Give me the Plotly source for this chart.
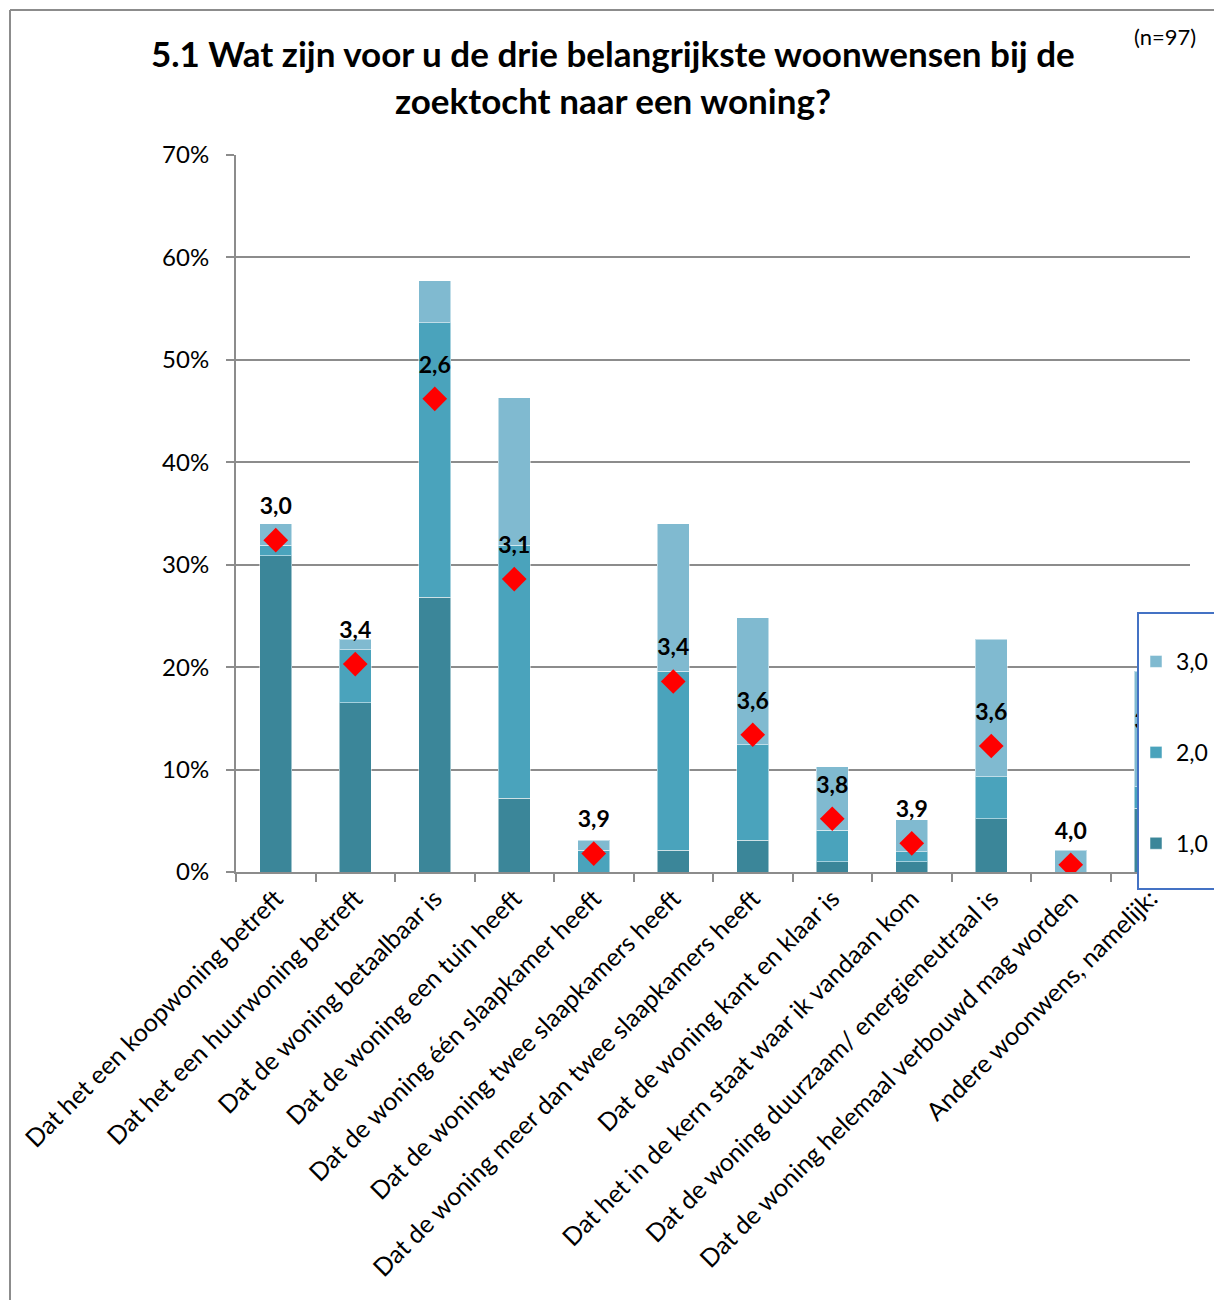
import plotly.graph_objects as go

categories = [
    "Dat het een koopwoning betreft",
    "Dat het een huurwoning betreft",
    "Dat de woning betaalbaar is",
    "Dat de woning een tuin heeft",
    "Dat de woning één slaapkamer heeft",
    "Dat de woning twee slaapkamers heeft",
    "Dat de woning meer dan twee slaapkamers heeft",
    "Dat de woning kant en klaar is",
    "Dat het in de kern staat waar ik vandaan kom",
    "Dat de woning duurzaam/ energieneutraal is",
    "Dat de woning helemaal verbouwd mag worden",
    "Andere woonwens, namelijk:",
]
series_names = ["1,0", "2,0", "3,0"]
rank1 = [30.9, 16.5, 26.8, 7.2, 0.0, 2.1, 3.1, 1.0, 1.0, 5.2, 0.0, 6.2]
rank2 = [1.0, 5.2, 26.8, 24.7, 2.1, 17.5, 9.3, 3.1, 1.0, 4.1, 0.0, 2.1]
rank3 = [2.1, 1.0, 4.1, 14.4, 1.0, 14.4, 12.4, 6.2, 3.1, 13.4, 2.1, 11.3]
mean_marker = [32.4, 20.3, 46.2, 28.6, 1.8, 18.6, 13.4, 5.2, 2.8, 12.3, 0.7, 11.4]
mean_labels = ["3,0", "3,4", "2,6", "3,1", "3,9", "3,4", "3,6", "3,8", "3,9", "3,6", "4,0", "3,7"]
y_ticks = [0, 10, 20, 30, 40, 50, 60, 70]
y_ticktext = ["0%", "10%", "20%", "30%", "40%", "50%", "60%", "70%"]

colors = ["#3B8699", "#4AA3BC", "#80BAD0"]
FONT = "Lato"

W, H = 1214, 1300
L, R, T, B = 236, 24, 155, 428
pw, ph = W - L - R, H - T - B

def px(x):
    return (x - L) / pw

def py(y):
    return (T + ph - y) / ph

fig = go.Figure()
for name, vals, col, rank in zip(series_names, [rank1, rank2, rank3], colors, [3, 2, 1]):
    fig.add_trace(go.Bar(
        x=categories, y=vals, name=name,
        marker=dict(color=col, line=dict(color="rgba(255,255,255,0.5)", width=1)),
        legendgroup=name, legendrank=rank,
    ))

# invisible large markers carry the labels above the diamonds
fig.add_trace(go.Scatter(
    x=categories, y=mean_marker, mode="markers+text", text=mean_labels,
    textposition="top center",
    textfont=dict(family=FONT, size=23, color="black", weight="bold"),
    marker=dict(size=31, color="rgba(0,0,0,0)"), showlegend=False, hoverinfo="skip",
))
fig.add_trace(go.Scatter(
    x=categories, y=mean_marker, mode="markers",
    marker=dict(symbol="diamond", size=19, color="#FF0000"), showlegend=False,
))

shapes = [
    dict(type="line", xref="paper", yref="paper", x0=px(10), x1=px(1300), y0=py(10), y1=py(10),
         line=dict(color="#8C8C8C", width=2)),
    dict(type="line", xref="paper", yref="paper", x0=px(10), x1=px(10), y0=py(10), y1=py(1400),
         line=dict(color="#8C8C8C", width=2)),
    dict(type="rect", xref="paper", yref="paper", x0=px(1138), x1=px(1300), y0=py(613), y1=py(889),
         fillcolor="white", line=dict(color="#4472C4", width=2), layer="above"),
]

annotations = [
    dict(text="<b>5.1 Wat zijn voor u de drie belangrijkste woonwensen bij de</b>", xref="paper", yref="paper",
         x=px(613), y=py(53), xanchor="center", yanchor="middle", showarrow=False,
         font=dict(family=FONT, size=35, color="black")),
    dict(text="<b>zoektocht naar een woning?</b>", xref="paper", yref="paper",
         x=px(613), y=py(100), xanchor="center", yanchor="middle", showarrow=False,
         font=dict(family=FONT, size=35, color="black")),
    dict(text="(n=97)", xref="paper", yref="paper", x=px(1165), y=py(37), xanchor="center", yanchor="middle",
         showarrow=False, font=dict(family=FONT, size=22, color="black")),
]

fig.update_layout(
    width=W, height=H,
    margin=dict(l=L, r=R, t=T, b=B, autoexpand=False),
    barmode="stack", bargap=0.6,
    plot_bgcolor="white", paper_bgcolor="white",
    font=dict(family=FONT, size=23, color="black"),
    showlegend=True,
    legend=dict(x=px(1136), y=py(640), xanchor="left", yanchor="top", bgcolor="rgba(0,0,0,0)",
                borderwidth=0, font=dict(family=FONT, size=23, color="black"), tracegroupgap=58),
    shapes=shapes, annotations=annotations,
    xaxis=dict(type="category", range=[-0.5, len(categories) - 0.5], showgrid=False, ticks="outside",
               tickson="boundaries", ticklen=8, tickcolor="#8C8C8C", tickwidth=2, showline=True,
               linecolor="#8C8C8C", linewidth=2, tickangle=-45,
               tickfont=dict(family=FONT, size=25, color="black")),
    yaxis=dict(range=[0, 70], tickvals=y_ticks, ticktext=y_ticktext, showgrid=True, gridcolor="#8C8C8C",
               gridwidth=2, showline=True, linecolor="#8C8C8C", linewidth=2, ticks="outside", ticklen=8,
               tickcolor="#8C8C8C", tickwidth=2, zeroline=False, ticklabelstandoff=12,
               tickfont=dict(family=FONT, size=24, color="black")),
)

fig.write_html("out.html")
